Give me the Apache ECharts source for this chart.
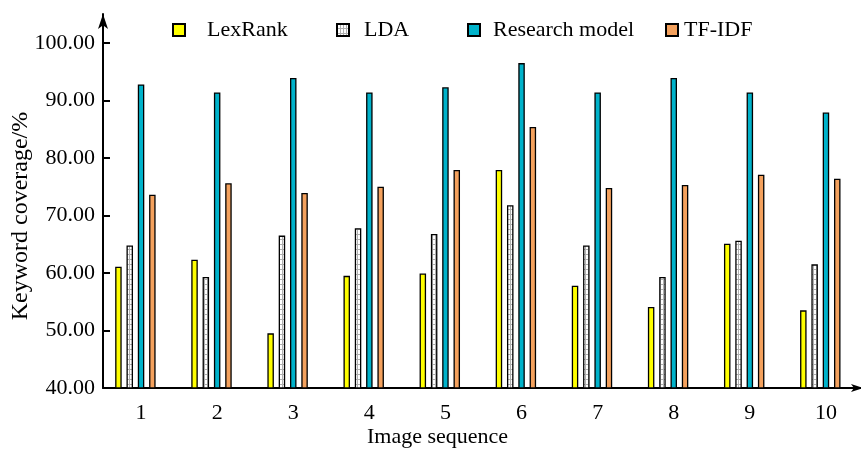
<!DOCTYPE html>
<html>
<head>
<meta charset="utf-8">
<script src="https://cdn.jsdelivr.net/npm/echarts@6/dist/echarts.min.js"></script>
<style>
  html, body { margin: 0; padding: 0; background: #fff; }
  #chart { width: 861px; height: 451px; }
</style>
</head>
<body>
<div id="chart"></div>
<script>
// Image sequence numbers along the x axis
const categories = ['1', '2', '3', '4', '5', '6', '7', '8', '9', '10'];
// Keyword coverage ticks (%)
const yTicks = [40, 50, 60, 70, 80, 90, 100];

// Keyword coverage (%) per method
const lexRank  = [61.1, 62.3, 49.5, 59.5, 59.9, 77.9, 57.8, 54.1, 65.1, 53.5];
const lda      = [64.8, 59.3, 66.5, 67.8, 66.8, 71.8, 64.8, 59.3, 65.6, 61.5];
const research = [92.8, 91.4, 93.9, 91.4, 92.3, 96.5, 91.4, 93.9, 91.4, 87.9];
const tfIdf    = [73.6, 75.6, 73.9, 75.0, 77.9, 85.4, 74.8, 75.3, 77.1, 76.4];

const FONT = 'Liberation Serif';

// Small grid pattern used to fill the LDA bars
function gridPattern() {
  const c = document.createElement('canvas');
  c.width = 3; c.height = 5;
  const g = c.getContext('2d');
  g.fillStyle = '#ffffff';
  g.fillRect(0, 0, 3, 5);
  g.fillStyle = '#b0b0b0';
  g.fillRect(0, 4, 3, 1);
  g.fillRect(0, 0, 1, 5);
  return c;
}

const chart = echarts.init(document.getElementById('chart'), null, { renderer: 'canvas' });

const barCommon = { type: 'bar', barWidth: 6.5, barGap: '74%' };
function bars(name, data, color) {
  return Object.assign({}, barCommon, {
    name: name,
    data: data,
    itemStyle: { color: color, borderColor: '#000', borderWidth: 1.3 }
  });
}

function legendItem(name, left, textGap) {
  return {
    data: [name],
    left: left,
    top: 19,
    padding: 0,
    icon: 'rect',
    itemWidth: 12,
    itemHeight: 12,
    textStyle: { fontFamily: FONT, fontSize: 22, color: '#000', padding: [0, 0, 0, textGap] }
  };
}

chart.setOption({
  backgroundColor: '#fff',
  animation: false,
  textStyle: { fontFamily: FONT, color: '#000' },
  legend: [
    legendItem('LexRank', 172, 17),
    legendItem('LDA', 336, 10),
    legendItem('Research model', 467, 8),
    legendItem('TF-IDF', 665, 1)
  ],
  grid: { left: 103, top: 14, width: 761, height: 374, containLabel: false, outerBoundsMode: 'none' },
  xAxis: {
    type: 'category',
    data: categories,
    axisLine: {
      lineStyle: { color: '#000', width: 2 },
      symbol: ['none', 'arrow'],
      symbolSize: [6, 12],
      symbolOffset: [0, -1]
    },
    axisTick: { show: false },
    axisLabel: { fontFamily: FONT, fontSize: 22, color: '#000', margin: 14 },
    name: 'Image sequence',
    nameLocation: 'middle',
    nameGap: 38,
    nameMoveOverlap: false,
    nameTextStyle: { fontFamily: FONT, fontSize: 22, color: '#000', padding: [0, 92, 0, 0] }
  },
  yAxis: {
    type: 'value',
    min: 40,
    max: 105.04,
    interval: 10,
    axisLine: {
      show: true,
      lineStyle: { color: '#000', width: 2 },
      symbol: ['none', 'arrow'],
      symbolSize: [7.5, 15]
    },
    axisTick: { show: true, inside: true, length: 7, lineStyle: { color: '#000', width: 2 }, customValues: yTicks },
    axisLabel: {
      customValues: yTicks,
      formatter: function (v) { return v.toFixed(2); },
      fontFamily: FONT, fontSize: 22, color: '#000', margin: 8
    },
    splitLine: { show: false },
    name: 'Keyword coverage/%',
    nameLocation: 'middle',
    nameGap: 70,
    nameMoveOverlap: false,
    nameTextStyle: { fontFamily: FONT, fontSize: 24, color: '#000', padding: [0, 30, 0, 0] }
  },
  series: [
    bars('LexRank', lexRank, '#ffff00'),
    bars('LDA', lda, { image: gridPattern(), repeat: 'repeat' }),
    bars('Research model', research, '#00b2ca'),
    bars('TF-IDF', tfIdf, '#f4a15d'),
    // empty trailing slot: keeps each group of four bars just left of its tick label
    Object.assign({}, barCommon, { name: '', data: [] })
  ]
});
</script>
</body>
</html>
